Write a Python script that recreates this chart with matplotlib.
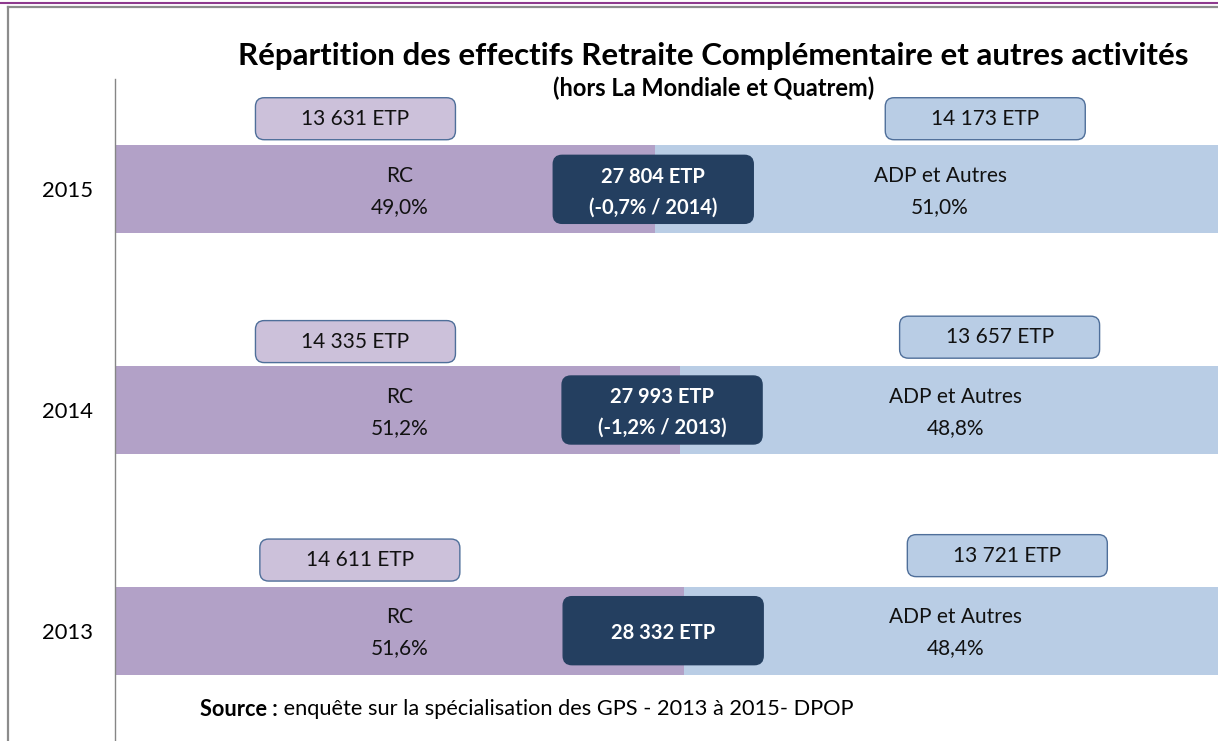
"""
Répartition des effectifs RC / ADP et autres — barres empilées à 100 %
"""

import matplotlib

matplotlib.use("Agg")
import matplotlib.pyplot as plt
from matplotlib.patches import FancyBboxPatch
from matplotlib.lines import Line2D

plt.rcParams["font.family"] = ["Lato", "DejaVu Sans"]

# ── Données ──
years = ["2013", "2014", "2015"]
rc_pct = [51.6, 51.2, 49.0]
adp_pct = [48.4, 48.8, 51.0]
rc_etp = ["14 611 ETP", "14 335 ETP", "13 631 ETP"]
adp_etp = ["13 721 ETP", "13 657 ETP", "14 173 ETP"]
total_etp = ["28 332 ETP", "27 993 ETP", "27 804 ETP"]
evolution = ["", "(-1,2% / 2013)", "(-0,7% / 2014)"]

# ── Couleurs ──
RC_COLOR = "#b2a1c7"
ADP_COLOR = "#b9cde5"
RC_BOX = "#ccc1da"
BOX_EDGE = "#4f6f9a"
DARK_BOX = "#243f60"

# ── Placement des étiquettes (en % de l'axe) ──
rc_box_x = [22.2, 21.8, 21.8]
adp_box_x = [80.9, 80.2, 78.9]
rc_box_dy = [0.32, 0.31, 0.32]
adp_box_dy = [0.34, 0.33, 0.32]
total_box_x = [49.7, 49.6, 48.8]
rc_text_x = 25.8
adp_text_x = [76.2, 76.2, 74.8]

fig = plt.figure(figsize=(12.18, 7.41), dpi=100)
ax = fig.add_axes([115 / 1218, 0, 1 - 115 / 1218, 1 - 79 / 741])

y = list(range(len(years)))
ax.barh(y, rc_pct, height=0.4, color=RC_COLOR, zorder=1)
ax.barh(y, adp_pct, left=rc_pct, height=0.4, color=ADP_COLOR, zorder=1)

ax.set_xlim(0, 100)
ax.set_ylim(-0.5, 2.5)

# rapport pixels x / pixels y pour garder des coins arrondis réguliers
ASPECT = (3 / 662) / (100 / 1103)

BOX_W = 200 / 1103 * 100
BOX_H = 42 / 662 * 3
DARK_W = 200 / 1103 * 100
DARK_H = 68 / 662 * 3


def rounded_box(xc, yc, w, h, face, edge, lw=1.0, z=3):
    patch = FancyBboxPatch(
        (xc - w / 2, yc - h / 2),
        w,
        h,
        boxstyle="round,pad=0,rounding_size=0.8",
        mutation_aspect=ASPECT,
        facecolor=face,
        edgecolor=edge,
        linewidth=lw,
        zorder=z,
    )
    ax.add_patch(patch)


for i, yr in enumerate(years):
    yc = y[i]

    # boîtes ETP au-dessus des barres
    rounded_box(rc_box_x[i], yc + rc_box_dy[i], BOX_W, BOX_H, RC_BOX, BOX_EDGE)
    ax.text(rc_box_x[i], yc + rc_box_dy[i], rc_etp[i], ha="center", va="center",
            fontsize=15, color="#111111", zorder=4)
    rounded_box(adp_box_x[i], yc + adp_box_dy[i], BOX_W, BOX_H, ADP_COLOR, BOX_EDGE)
    ax.text(adp_box_x[i], yc + adp_box_dy[i], adp_etp[i], ha="center", va="center",
            fontsize=15, color="#111111", zorder=4)

    # libellés dans les barres
    ax.text(rc_text_x, yc - 0.01, f"RC\n{rc_pct[i]:.1f}%".replace(".", ","),
            ha="center", va="center", fontsize=15, linespacing=1.7,
            color="#111111", zorder=4)
    ax.text(adp_text_x[i], yc - 0.01, f"ADP et Autres\n{adp_pct[i]:.1f}%".replace(".", ","),
            ha="center", va="center", fontsize=15, linespacing=1.7,
            color="#111111", zorder=4)

    # total au centre
    rounded_box(total_box_x[i], yc, DARK_W, DARK_H, DARK_BOX, DARK_BOX, z=5)
    label = total_etp[i] if not evolution[i] else f"{total_etp[i]}\n{evolution[i]}"
    ax.text(total_box_x[i], yc - 0.012, label, ha="center", va="center", fontsize=14.5,
            fontweight="bold", color="white", linespacing=1.65, zorder=6)

# ── Axes ──
ax.set_yticks(y)
ax.set_yticklabels(years, fontsize=15.8)
ax.tick_params(axis="y", length=0, pad=16)
ax.set_xticks([])
for side in ["top", "right", "bottom"]:
    ax.spines[side].set_visible(False)
ax.spines["left"].set_color("#868686")
ax.spines["left"].set_linewidth(1.0)

# ── Titres ──
fig.text(0.586, 0.924, "Répartition des effectifs Retraite Complémentaire et autres activités",
         ha="center", va="center", fontsize=22.5, fontweight="bold")
fig.text(0.586, 0.881, "(hors La Mondiale et Quatrem)",
         ha="center", va="center", fontsize=17, fontweight="bold")

# ── Source ──
src = fig.text(200 / 1218, 1 - 709 / 741, "Source :", ha="left", va="center",
               fontsize=15.7, fontweight="bold")
ax.annotate(" enquête sur la spécialisation des GPS - 2013 à 2015- DPOP",
            xy=(1, 0.5), xycoords=src, ha="left", va="center", fontsize=15.7)

# ── Cadre de la page ──
fig.add_artist(Line2D([0, 1], [1 - 3 / 741] * 2, color="#8e3a8e", linewidth=1.5,
                      transform=fig.transFigure))
fig.add_artist(Line2D([8 / 1218, 1], [1 - 7 / 741] * 2, color="#8c8c8c", linewidth=1.6,
                      transform=fig.transFigure))
fig.add_artist(Line2D([8 / 1218] * 2, [0, 1 - 7 / 741], color="#8c8c8c", linewidth=1.6,
                      transform=fig.transFigure))

fig.savefig("out.png", dpi=100)
